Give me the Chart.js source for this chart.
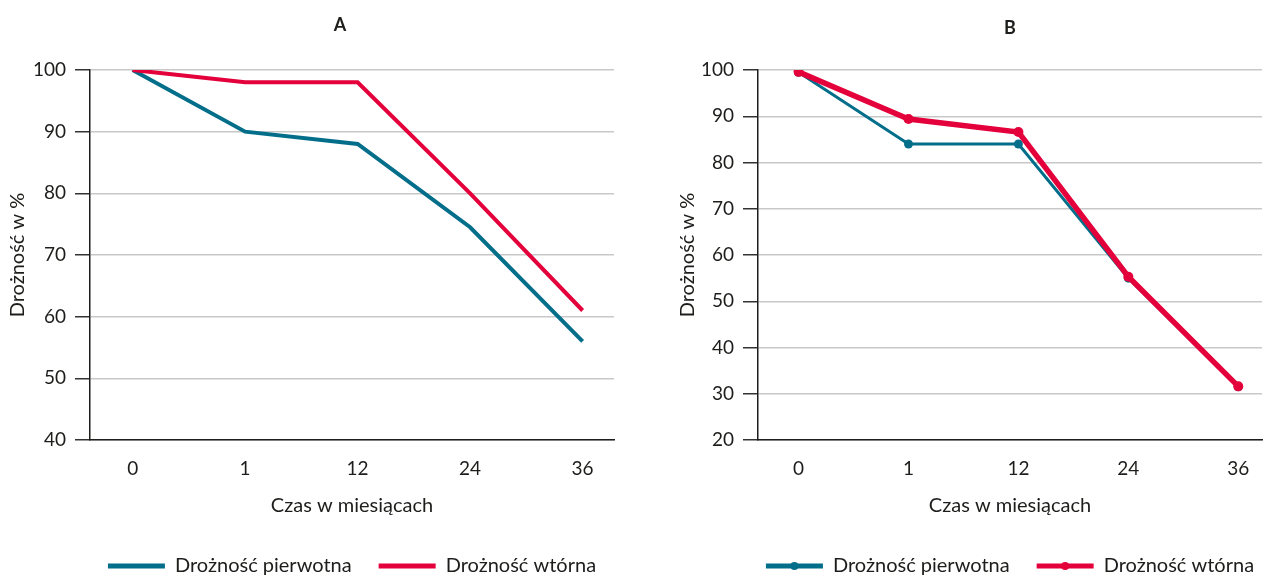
<!DOCTYPE html>
<html><head><meta charset="utf-8">
<script src="https://cdn.jsdelivr.net/npm/chart.js@4.4.0/dist/chart.umd.min.js"></script>
<style>
html,body{margin:0;padding:0;background:#fff;}
#wrap{position:relative;width:1267px;height:576px;overflow:hidden;background:#fff}
#ca{position:absolute;left:0;top:0;width:640px;height:576px}
#cb{position:absolute;left:640px;top:0;width:627px;height:576px}
</style></head><body>
<div id="wrap"><div id="ca"><canvas id="a"></canvas></div><div id="cb"><canvas id="b"></canvas></div></div>
<script>
// ---- data ----
const categories = ['0', '1', '12', '24', '36'];
const seriesNames = ['Drożność pierwotna', 'Drożność wtórna'];
const primaryA = [100, 90, 88, 74.5, 56];
const secondaryA = [100, 98, 98, 80, 61];
const primaryB = [99.5, 84, 84, 55, 31.5];
const secondaryB = [99.6, 89.4, 86.6, 55.3, 31.6];
const yTicksA = [40, 50, 60, 70, 80, 90, 100];
const yTicksB = [20, 30, 40, 50, 60, 70, 80, 90, 100];
const xTitle = 'Czas w miesiącach';
const yTitle = 'Drożność w %';

// ---- style ----
const TEAL = '#036e8a';
const RED = '#e3003b';
const TXT = '#1d1d1b';
const FONT = 'Lato';
Chart.defaults.font.family = FONT;
Chart.defaults.color = TXT;

function toPts(arr) { return arr.map((v, i) => ({x: i, y: v})); }

const extras = {
  id: 'extras',
  afterLayout(chart, args, opts) {
    const t = chart.titleBlock;
    if (t && opts.titleDx) { t.left += opts.titleDx; t.right += opts.titleDx; }
    // widen the legend box symmetrically so both entries stay on one row
    const lg = chart.legend;
    if (lg) { lg.left -= 300; lg.right += 300; lg.width += 600; }
  },
  afterDraw(chart, args, opts) {
    if (!opts.dots) return;
    const ctx = chart.ctx;
    chart.legend.legendHitBoxes.forEach((hb, i) => {
      const ds = chart.data.datasets[i];
      ctx.save();
      ctx.fillStyle = ds.borderColor;
      ctx.beginPath();
      ctx.arc(hb.left + 57 / 2, hb.top + hb.height / 2, 4, 0, Math.PI * 2);
      ctx.fill();
      ctx.restore();
    });
  }
};

function makeChart(id, cfg) {
  const datasets = [
    {label: seriesNames[0], data: toPts(cfg.p), borderColor: TEAL, backgroundColor: TEAL, order: 1,
     borderWidth: cfg.wP, pointRadius: cfg.rP, pointBackgroundColor: TEAL, pointBorderWidth: 0, tension: 0},
    {label: seriesNames[1], data: toPts(cfg.s), borderColor: RED, backgroundColor: RED, order: 0,
     borderWidth: cfg.wS, pointRadius: cfg.rS, pointBackgroundColor: RED, pointBorderWidth: 0, tension: 0}
  ];
  const chart = new Chart(document.getElementById(id), {
    type: 'line',
    data: {datasets},
    plugins: [extras],
    options: {
      responsive: true, maintainAspectRatio: false, animation: false,
      layout: {padding: {left: 0, right: cfg.padR, top: 0, bottom: -10}},
      plugins: {
        tooltip: {enabled: false},
        extras: {dots: cfg.dots, titleDx: cfg.titleDx},
        title: {display: true, text: cfg.title, fullSize: false,
          font: {size: 18, weight: 'bold', family: FONT}, color: TXT,
          padding: {top: cfg.tTop, bottom: 70 - cfg.tTop - 21.6}},
        legend: {position: 'bottom', fullSize: false,
          labels: {boxWidth: 57, boxHeight: 5, padding: 27, font: {size: 20, family: FONT}, color: TXT,
            sort: (a, b) => a.datasetIndex - b.datasetIndex,
            generateLabels(chart) {
              return Chart.defaults.plugins.legend.labels.generateLabels(chart).map(it => Object.assign(it, {lineWidth: 0}));
            }}}
      },
      scales: {
        x: {type: 'linear', min: cfg.xmin, max: cfg.xmax,
          afterBuildTicks(sc) { sc.ticks = categories.map((c, i) => ({value: i})); },
          afterFit(sc) { sc.height = 89; },
          ticks: {callback: (v) => categories[v], font: {size: 19, family: FONT}, color: TXT, padding: 17, maxRotation: 0, autoSkip: false},
          grid: {display: false, drawTicks: false},
          border: {display: true, color: '#1d1d1b', width: 1.5},
          title: {display: true, text: xTitle, font: {size: 20, family: FONT}, color: TXT, padding: {top: 0, bottom: 11}}
        },
        y: {min: cfg.yt[0], max: cfg.yt[cfg.yt.length - 1],
          afterBuildTicks(sc) { sc.ticks = cfg.yt.map(v => ({value: v})); },
          afterFit(sc) { sc.width = cfg.yW; },
          ticks: {font: {size: 19, family: FONT}, color: TXT, padding: 9},
          grid: {color: '#c8c8c8', lineWidth: 1.5, tickLength: 15, tickColor: '#333', drawTicks: true},
          border: {display: true, color: '#1d1d1b', width: 1.5},
          title: {display: true, text: yTitle, font: {size: 20, family: FONT}, color: TXT, padding: {top: cfg.yTitlePad, bottom: 0}}
        }
      }
    }
  });
  // measure legend rows against a wider width so both entries stay on one row
  const lg = chart.legend;
  const origFit = lg.fit;
  lg.fit = function () {
    const mw = this.maxWidth;
    this.maxWidth = mw + 600;
    origFit.call(this);
    this.maxWidth = mw;
    this.width = mw;
  };
  chart.update();
  return chart;
}

makeChart('a', {title: 'A', p: primaryA, s: secondaryA, yt: yTicksA, wP: 4, wS: 4, rP: 0, rS: 0,
  dots: false, titleDx: -12, padR: 26, xmin: -0.379, xmax: 4.279, yW: 90, yTitlePad: 6, tTop: 14});
makeChart('b', {title: 'B', p: primaryB, s: secondaryB, yt: yTicksB, wP: 3, wS: 5.5, rP: 4.5, rS: 5,
  dots: true, titleDx: 0, padR: 0, xmin: -0.369, xmax: 4.216, yW: 118, yTitlePad: 36, tTop: 17});
</script>
</body></html>
